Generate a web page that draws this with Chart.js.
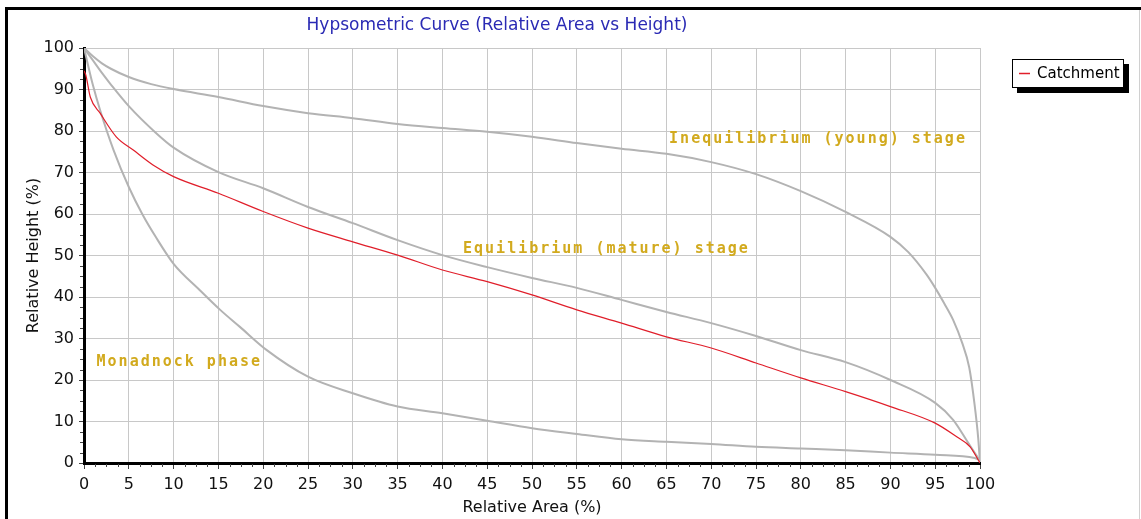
<!DOCTYPE html>
<html>
<head>
<meta charset="utf-8">
<script src="https://cdn.jsdelivr.net/npm/chart.js@4/dist/chart.umd.min.js"></script>
<style>
  html, body { margin: 0; padding: 0; background: #ffffff; }
  #wrap { width: 1141px; height: 519px; position: relative; }
</style>
</head>
<body>
<div id="wrap"><canvas id="c" width="1141" height="519"></canvas></div>
<script>
// ---- Data ----
const chartTitle = 'Hypsometric Curve (Relative Area vs Height)';
const xAxisTitle = 'Relative Area (%)';
const yAxisTitle = 'Relative Height (%)';
const seriesName = 'Catchment';

// Catchment curve (red)
const catchmentArea   = [0, 0.2, 0.7, 1.8, 3.6, 5.5, 7.7, 10, 15, 20, 25, 30, 35, 40, 45, 50, 55, 60, 65, 70, 75, 80, 85, 90, 95, 97.4, 98.9, 100];
const catchmentHeight = [94.5, 93.5, 88.2, 84.3, 78.6, 75.4, 71.8, 69, 65, 60.6, 56.6, 53.3, 50.1, 46.5, 43.7, 40.5, 36.9, 33.7, 30.4, 27.7, 24.1, 20.5, 17.2, 13.6, 9.6, 6.3, 3.9, 0];

// Reference curve: Inequilibrium (young) stage
const youngArea   = [0, 1, 2, 3, 5, 7.5, 10, 15, 20, 25, 30, 35, 40, 45, 50, 55, 60, 65, 70, 75, 80, 85, 90, 92, 94, 95, 96, 97, 98, 98.8, 99.4, 99.8, 100];
const youngHeight = [100, 98, 96.3, 95, 93, 91.3, 90.1, 88.2, 86, 84.3, 83.1, 81.7, 80.7, 79.8, 78.6, 77.1, 75.7, 74.5, 72.5, 69.6, 65.5, 60.5, 54.5, 50.8, 45.5, 42.2, 38.5, 34.5, 29, 23, 14, 6, 0];

// Reference curve: Equilibrium (mature) stage
const matureArea   = [0, 1, 2, 3, 5, 8, 10, 15, 20, 25, 30, 35, 40, 45, 50, 55, 60, 65, 70, 75, 80, 85, 90, 95, 97, 98.5, 100];
const matureHeight = [100, 97, 94, 91.2, 86, 79.6, 76, 70.1, 66.2, 61.7, 57.8, 53.7, 50.1, 47.2, 44.6, 42.2, 39.3, 36.4, 33.7, 30.6, 27.2, 24.3, 20, 14.5, 10.4, 5.5, 0.5];

// Reference curve: Monadnock phase
const monadArea   = [0, 1, 1.8, 3.3, 5, 6.5, 8, 10, 12.9, 15.2, 17.4, 20.4, 25, 30, 35, 40, 45, 50, 55, 60, 65, 70, 75, 80, 85, 90, 95, 99.4, 100];
const monadHeight = [100, 91, 85, 75.4, 66.5, 60, 54.5, 48, 41.7, 36.9, 32.8, 27.2, 20.8, 16.8, 13.6, 12, 10.2, 8.4, 7.0, 5.7, 5.1, 4.6, 3.9, 3.5, 3.1, 2.5, 2.0, 1.2, 0.7];

// Curve annotations (text + anchor in data units: left / baseline)
const stageLabels = ['Inequilibrium (young) stage', 'Equilibrium (mature) stage', 'Monadnock phase'];
const stageLabelX = [65.3, 42.3, 1.4];
const stageLabelY = [77.1, 50.7, 23.4];

// Axis ticks
const xMin = 0, xMax = 100, xStep = 5, xMinorStep = 1.25;
const yMin = 0, yMax = 100, yStep = 10, yMinorStep = 2.5;

function toPoints(xs, ys) { return xs.map((x, i) => ({ x: x, y: ys[i] })); }

const FONT = "'DejaVu Sans', 'Liberation Sans', Arial, sans-serif";
const GRAY = '#b3b3b3';

const decorPlugin = {
  id: 'decor',
  beforeDraw(chart) {
    const ctx = chart.ctx;
    ctx.save();
    ctx.fillStyle = '#ffffff';
    ctx.fillRect(0, 0, chart.width, chart.height);
    // outer frame
    ctx.fillStyle = '#000000';
    ctx.fillRect(5, 7, chart.width - 5, 3);
    ctx.fillRect(5, 7, 3, chart.height - 7);
    ctx.fillStyle = '#d0d0d0';
    ctx.fillRect(chart.width - 2, 10, 1, chart.height - 10);
    ctx.restore();
  },
  afterDraw(chart) {
    const ctx = chart.ctx;
    const xs = chart.scales.x, ys = chart.scales.y;
    const area = chart.chartArea;
    ctx.save();
    // minor ticks
    ctx.strokeStyle = '#444444';
    ctx.lineWidth = 1;
    ctx.beginPath();
    for (let v = xMin; v <= xMax + 1e-9; v += xMinorStep) {
      if (Math.abs(v / xStep - Math.round(v / xStep)) < 1e-6) continue;
      const px = Math.round(xs.getPixelForValue(v)) + 0.5;
      ctx.moveTo(px, area.bottom + 1);
      ctx.lineTo(px, area.bottom + 4);
    }
    for (let v = yMin; v <= yMax + 1e-9; v += yMinorStep) {
      if (Math.abs(v / yStep - Math.round(v / yStep)) < 1e-6) continue;
      const py = Math.round(ys.getPixelForValue(v)) + 0.5;
      ctx.moveTo(area.left - 4, py);
      ctx.lineTo(area.left - 1, py);
    }
    ctx.stroke();

    // chart title
    ctx.fillStyle = '#2a2ab4';
    ctx.font = '17px ' + FONT;
    ctx.textAlign = 'center';
    ctx.textBaseline = 'middle';
    ctx.fillText(chartTitle, 497, 26);

    // stage labels
    ctx.fillStyle = '#d2aa1e';
    ctx.font = "bold 15px 'DejaVu Sans Mono', 'Liberation Mono', monospace";
    ctx.textAlign = 'left';
    ctx.textBaseline = 'alphabetic';
    try { ctx.letterSpacing = '2px'; } catch (e) {}
    for (let i = 0; i < stageLabels.length; i++) {
      ctx.fillText(stageLabels[i], xs.getPixelForValue(stageLabelX[i]), ys.getPixelForValue(stageLabelY[i]));
    }
    try { ctx.letterSpacing = '0px'; } catch (e) {}

    // legend box
    const lx = 1012, ly = 59, lw = 112, lh = 29;
    ctx.fillStyle = '#000000';
    ctx.fillRect(lx + 5, ly + 5, lw, lh);
    ctx.fillStyle = '#ffffff';
    ctx.fillRect(lx, ly, lw, lh);
    ctx.strokeStyle = '#000000';
    ctx.lineWidth = 1;
    ctx.strokeRect(lx + 0.5, ly + 0.5, lw - 1, lh - 1);
    const ds = chart.data.datasets[0];
    ctx.strokeStyle = ds.borderColor;
    ctx.lineWidth = 1.5;
    ctx.beginPath();
    ctx.moveTo(lx + 7, ly + 14.5);
    ctx.lineTo(lx + 18, ly + 14.5);
    ctx.stroke();
    ctx.fillStyle = '#000000';
    ctx.font = '15px ' + FONT;
    ctx.textAlign = 'left';
    ctx.textBaseline = 'middle';
    ctx.fillText(ds.label, lx + 25, ly + 15);
    ctx.restore();
  }
};

new Chart(document.getElementById('c'), {
  type: 'line',
  data: {
    datasets: [
      { label: seriesName, data: toPoints(catchmentArea, catchmentHeight), borderColor: '#e01e2a', borderWidth: 1.2, pointRadius: 0, cubicInterpolationMode: 'monotone', fill: false, order: 0 },
      { label: 'Inequilibrium (young) stage', data: toPoints(youngArea, youngHeight), borderColor: GRAY, borderWidth: 2, pointRadius: 0, cubicInterpolationMode: 'monotone', fill: false, order: 1 },
      { label: 'Equilibrium (mature) stage', data: toPoints(matureArea, matureHeight), borderColor: GRAY, borderWidth: 2, pointRadius: 0, cubicInterpolationMode: 'monotone', fill: false, order: 1 },
      { label: 'Monadnock phase', data: toPoints(monadArea, monadHeight), borderColor: GRAY, borderWidth: 2, pointRadius: 0, cubicInterpolationMode: 'monotone', fill: false, order: 1 }
    ]
  },
  options: {
    responsive: false,
    animation: false,
    devicePixelRatio: 1,
    layout: { padding: { top: 48, right: 161, bottom: 0, left: 0 } },
    plugins: {
      legend: { display: false },
      title: { display: false },
      tooltip: { enabled: false }
    },
    scales: {
      x: {
        type: 'linear',
        min: xMin, max: xMax,
        afterFit(scale) { scale.height = 56; },
        border: { display: true, color: '#000000', width: 3 },
        grid: { color: '#c8c8c8', lineWidth: 1, drawTicks: true, tickLength: 6, tickColor: '#444444' },
        ticks: { stepSize: xStep, maxRotation: 0, autoSkip: false, padding: 6, color: '#111111', font: { family: FONT, size: 16 } },
        title: { display: true, text: xAxisTitle, color: '#111111', font: { family: FONT, size: 16 }, padding: { top: 0, bottom: 2 } }
      },
      y: {
        type: 'linear',
        min: yMin, max: yMax,
        afterFit(scale) { scale.width = 84; },
        border: { display: true, color: '#000000', width: 3 },
        grid: { color: '#c8c8c8', lineWidth: 1, drawTicks: true, tickLength: 5, tickColor: '#444444' },
        ticks: { stepSize: yStep, padding: 5, color: '#111111', font: { family: FONT, size: 16 } },
        title: { display: true, text: yAxisTitle, color: '#111111', font: { family: FONT, size: 16 }, padding: { top: 24, bottom: 0 } }
      }
    }
  },
  plugins: [decorPlugin]
});
</script>
</body>
</html>
